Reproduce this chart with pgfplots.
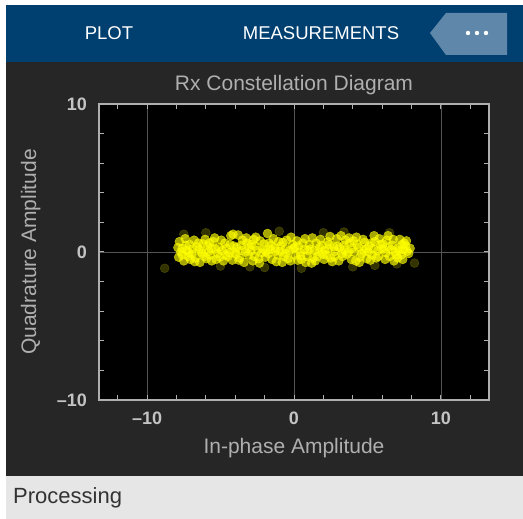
\documentclass[border=0pt]{standalone}
\usepackage{pgfplots}
\pgfplotsset{compat=1.18}
\usepackage{fontspec}
\setmainfont{Liberation Sans}
\definecolor{barblue}{RGB}{0,64,113}
\definecolor{btnblue}{RGB}{95,135,170}
\definecolor{darkbg}{RGB}{38,38,38}
\definecolor{statusbg}{RGB}{230,230,230}
\definecolor{framegray}{RGB}{175,175,175}
\definecolor{gridgray}{RGB}{85,85,85}
\definecolor{labgray}{RGB}{175,175,175}
\definecolor{tickgray}{RGB}{195,195,195}
\definecolor{ptyellow}{RGB}{255,255,0}
\begin{document}
\begin{tikzpicture}[x=1pt,y=1pt]
\useasboundingbox (0,0) rectangle (523,519);
\fill[white] (0,0) rectangle (523,519);
\fill[barblue] (6,457) rectangle (523,514);
\fill[darkbg] (6,43) rectangle (523,457);
\fill[statusbg] (6,0) rectangle (523,43);
\fill[btnblue] (430,486) -- (446,506) -- (507,506) -- (507,464) -- (446,464) -- cycle;
\fill[white] (468,486) circle (2.2) (477,486) circle (2.2) (486,486) circle (2.2);
\node[white,font=\fontsize{18.5}{20}\selectfont,inner sep=0pt] at (109,485.5) {PLOT};
\node[white,font=\fontsize{18.5}{20}\selectfont,inner sep=0pt] at (321,485.5) {MEASUREMENTS};
\node[black!80,font=\fontsize{22}{24}\selectfont,inner sep=0pt,anchor=base west] at (13,15) {Processing};
\begin{axis}[
  at={(99pt,119pt)}, anchor=south west,
  scale only axis, width=390pt, height=296pt,
  xmin=-13.27, xmax=13.27, ymin=-10, ymax=10,
  axis background/.style={fill=black},
  axis line style={framegray, line width=1.2pt},
  xtick={-10,0,10}, ytick={-10,0,10},
  xticklabels={\textbf{\textendash10},\textbf{0},\textbf{10}},
  yticklabels={\textbf{\textendash10},\textbf{0},\textbf{10}},
  minor xtick={-12,-8,-6,-4,-2,2,4,6,8,12},
  minor ytick={-8,-6,-4,-2,2,4,6,8},
  tick align=inside,
  major tick length=5pt, minor tick length=5pt,
  tick style={framegray, line width=1pt},
  grid=major,
  major grid style={gridgray, line width=0.8pt},
  ticklabel style={tickgray, font=\fontsize{18}{20}\selectfont, inner sep=0pt},
  xticklabel style={anchor=north, yshift=-12pt},
  yticklabel style={anchor=east, xshift=-12pt},
  title={Rx Constellation Diagram},
  title style={labgray, font=\fontsize{21}{24}\selectfont, at={(0.5,1)}, anchor=base, yshift=7pt, inner sep=0pt},
  xlabel={In-phase Amplitude},
  xlabel style={labgray, font=\fontsize{21}{24}\selectfont, at={(0.5,0)}, anchor=base, yshift=-54pt, inner sep=0pt},
  ylabel={Quadrature Amplitude},
  ylabel style={labgray, font=\fontsize{21}{24}\selectfont, at={(-0.1615,0.5)}, anchor=base, rotate=0, inner sep=0pt},
]
\addplot[only marks, mark=*, color=ptyellow, mark size=4.5pt, opacity=0.2, mark options={draw=none, fill=ptyellow}] coordinates {
(-8.8,-1.1) (8.2,-0.75) (-6.0,1.3) (-1.0,1.4) (3.4,1.35) (4.0,-1.0) (-3.0,-1.0) (6.5,1.3)
(0.5,-1.1) (-5.0,-0.95) (2.0,1.3) (7.0,-0.8) (-7.5,1.2) (-2.0,-1.05) (5.5,-0.9)
};
\addplot[only marks, mark=*, color=ptyellow, mark size=4.5pt, opacity=0.65, mark options={draw=none, fill=ptyellow}] coordinates {
(-7.9,0.3) (-7.6,-0.2) (-7.8,0.7) (-7.3,0.1) (-7.5,-0.6) (-7.1,0.5) (-7.7,0.0) (-7.2,-0.3) (-7.4,0.9) (-7.05,-0.5) (-7.85,-0.35) (-7.35,0.45) (-7.6,0.25) (-7.15,-0.05)
(-6.9,0.2) (-6.7,-0.4) (-6.5,0.6) (-6.3,0.0) (-6.8,0.8) (-6.1,-0.3) (-6.6,0.35) (-6.4,-0.7) (-6.2,0.55) (-6.95,-0.15) (-6.45,0.15) (-6.75,-0.65) (-6.05,0.85) (-6.25,-0.1)
(-5.9,0.4) (-5.7,-0.2) (-5.5,0.7) (-5.3,-0.5) (-5.8,0.05) (-5.1,0.3) (-5.6,-0.6) (-5.4,0.95) (-5.2,-0.1) (-5.95,-0.45) (-5.65,0.25) (-5.35,0.2) (-5.05,-0.35) (-5.75,0.6)
(-4.9,0.1) (-4.7,0.6) (-4.5,-0.3) (-4.3,1.1) (-4.8,-0.6) (-4.1,0.4) (-4.6,0.25) (-4.4,-0.05) (-4.2,-0.55) (-4.95,0.8) (-4.65,-0.2) (-4.35,0.5) (-4.05,0.0) (-4.15,1.2)
(-3.9,0.3) (-3.7,-0.4) (-3.5,0.8) (-3.3,0.0) (-3.8,1.15) (-3.1,-0.2) (-3.6,0.45) (-3.4,-0.7) (-3.2,0.6) (-3.95,-0.15) (-3.55,0.1) (-3.25,0.95) (-3.05,0.35) (-3.75,-0.55)
(-2.9,0.5) (-2.7,-0.3) (-2.5,0.1) (-2.3,0.75) (-2.8,-0.6) (-2.1,0.2) (-2.6,1.0) (-2.4,-0.45) (-2.2,-0.05) (-2.95,0.05) (-2.65,0.4) (-2.35,-0.75) (-2.05,0.55) (-2.75,0.85)
(-1.9,0.0) (-1.7,0.6) (-1.5,-0.5) (-1.3,0.3) (-1.8,1.25) (-1.1,-0.2) (-1.6,0.15) (-1.4,0.9) (-1.2,-0.65) (-1.95,-0.35) (-1.55,0.45) (-1.25,0.05) (-1.05,0.7) (-1.75,-0.1)
(-0.9,0.4) (-0.7,-0.3) (-0.5,0.8) (-0.3,0.1) (-0.8,-0.7) (-0.1,0.5) (-0.6,0.2) (-0.4,-0.45) (-0.2,1.0) (-0.95,0.05) (-0.55,-0.1) (-0.25,-0.6) (-0.05,0.25) (-0.75,0.65)
(0.1,-0.2) (0.3,0.4) (0.5,-0.5) (0.7,0.15) (0.2,0.75) (0.9,-0.3) (0.4,0.0) (0.6,0.6) (0.8,-0.7) (0.05,0.3) (0.45,-0.25) (0.75,0.9) (0.95,0.1) (0.25,-0.55)
(1.1,0.2) (1.3,-0.4) (1.5,0.6) (1.7,0.0) (1.2,-0.75) (1.9,0.45) (1.4,0.1) (1.6,-0.3) (1.8,0.85) (1.05,0.5) (1.45,-0.6) (1.75,0.3) (1.95,-0.15) (1.25,0.95)
(2.1,0.1) (2.3,0.7) (2.5,-0.4) (2.7,0.35) (2.2,-0.2) (2.9,0.9) (2.4,0.5) (2.6,-0.65) (2.8,0.05) (2.05,-0.5) (2.45,1.05) (2.75,-0.3) (2.95,0.4) (2.35,0.2)
(3.1,0.3) (3.3,-0.3) (3.5,0.8) (3.7,0.0) (3.2,1.1) (3.9,-0.5) (3.4,0.45) (3.6,-0.15) (3.8,0.6) (3.05,-0.6) (3.45,0.15) (3.75,0.95) (3.95,0.25) (3.25,-0.1)
(4.1,0.0) (4.3,0.5) (4.5,-0.35) (4.7,0.85) (4.2,-0.6) (4.9,0.2) (4.4,0.3) (4.6,-0.1) (4.8,0.65) (4.05,0.75) (4.45,-0.7) (4.75,0.1) (4.95,-0.45) (4.25,1.0)
(5.1,0.4) (5.3,-0.2) (5.5,0.7) (5.7,0.1) (5.2,-0.55) (5.9,0.5) (5.4,0.2) (5.6,-0.4) (5.8,0.9) (5.05,0.0) (5.45,1.1) (5.75,-0.3) (5.95,0.25) (5.25,0.6)
(6.1,0.2) (6.3,0.8) (6.5,-0.3) (6.7,0.45) (6.2,-0.5) (6.9,0.0) (6.4,1.1) (6.6,0.15) (6.8,-0.6) (6.05,0.55) (6.45,0.35) (6.75,0.85) (6.95,-0.2) (6.25,-0.05)
(7.1,0.3) (7.3,-0.2) (7.5,0.6) (7.7,0.05) (7.2,0.85) (7.9,0.25) (7.4,-0.5) (7.6,0.4) (7.8,-0.1) (7.05,-0.4) (7.45,0.15) (7.65,0.75) (7.35,0.5) (7.15,0.1)
};
\end{axis}
\end{tikzpicture}
\end{document}
